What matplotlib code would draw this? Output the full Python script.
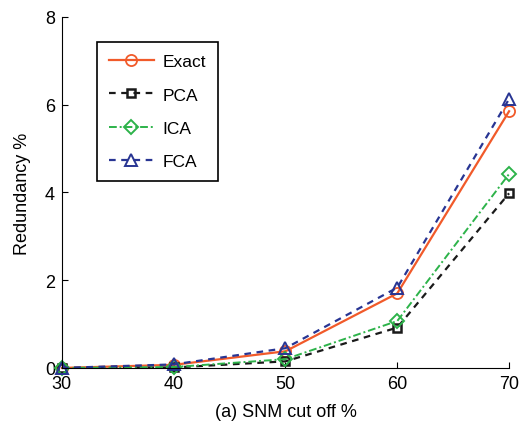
import numpy as np
import matplotlib.pyplot as plt
import matplotlib as mpl

# ---------------------------------------------------------------- data
snm_cutoff = [30, 40, 50, 60, 70]
exact = [0.0, 0.07, 0.38, 1.70, 5.85]
pca = [0.0, 0.01, 0.15, 0.92, 3.98]
ica = [0.0, 0.02, 0.20, 1.07, 4.42]
fca = [0.0, 0.08, 0.45, 1.83, 6.13]

# ---------------------------------------------------------------- style
mpl.rcParams.update({
    "font.family": ["Liberation Sans", "DejaVu Sans"],
    "font.size": 13,
    "xtick.direction": "in",
    "ytick.direction": "in",
    "axes.linewidth": 0.8,
})

fig = plt.figure(figsize=(5.2, 4.27), dpi=100)
ax = fig.add_axes([0.119, 0.136, 0.860, 0.822])

ax.plot(snm_cutoff, exact, color="#f15a2a", lw=1.6, ls="-",
        marker="o", ms=8, mfc="none", mew=1.3, label="Exact", clip_on=False)
ax.plot(snm_cutoff, pca, color="#1a1a1a", lw=1.6, ls=(0, (3, 2.5)),
        marker="s", ms=6, mfc="none", mew=1.8, label="PCA", clip_on=False)
ax.plot(snm_cutoff, ica, color="#2db34a", lw=1.4, ls=(0, (4, 1.5, 1, 1.5)),
        marker="D", ms=7, mfc="none", mew=1.4, label="ICA", clip_on=False)
ax.plot(snm_cutoff, fca, color="#283593", lw=1.6, ls=(0, (3, 2.5)),
        marker="^", ms=9, mfc="none", mew=1.4, label="FCA", clip_on=False)

ax.set_xlim(30, 70)
ax.set_ylim(0, 8)
ax.set_xticks([30, 40, 50, 60, 70])
ax.set_yticks([0, 2, 4, 6, 8])
ax.tick_params(labelsize=13, length=4, width=0.8, pad=5)
ax.spines["top"].set_visible(False)
ax.spines["right"].set_visible(False)
ax.set_xlabel("(a) SNM cut off %", fontsize=13, labelpad=8)
ax.set_ylabel("Redundancy %", fontsize=13, labelpad=10)

leg = ax.legend(loc="upper left", bbox_to_anchor=(0.078, 0.929),
                borderaxespad=0,
                fancybox=False, edgecolor="black", framealpha=1,
                handlelength=2.6, labelspacing=1.05, borderpad=0.7,
                handletextpad=0.5, fontsize=12.5)
leg.get_frame().set_linewidth(1.2)

fig.savefig("out.png", dpi=100)
